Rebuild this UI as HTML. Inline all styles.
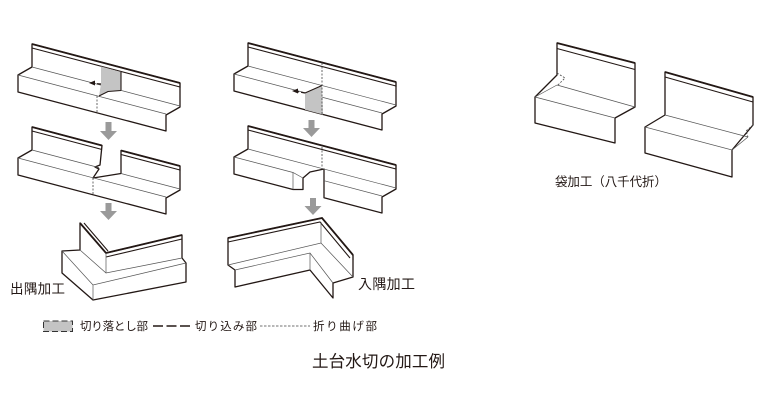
<!DOCTYPE html>
<html><head><meta charset="utf-8">
<style>
html,body{margin:0;padding:0;background:#fff;}
svg{display:block;}
text{font-family:"Liberation Sans","Noto Sans CJK JP",sans-serif;fill:#231815;}
.o{fill:#fff;stroke:#231815;stroke-width:1.3;stroke-linejoin:round;}
.lt{fill:none;stroke:#231815;stroke-width:1.8;}
.lb{fill:none;stroke:#231815;stroke-width:1.1;}
.f{fill:none;stroke:#555;stroke-width:0.7;}
.d{fill:none;stroke:#444;stroke-width:0.8;stroke-dasharray:2,1.5;}
.c{fill:none;stroke:#231815;stroke-width:1.3;stroke-dasharray:4,2;}
.g{fill:#c4c4c4;stroke:none;}
.ar{fill:#9a9a9a;}
</style></head>
<body>
<svg width="768" height="414" viewBox="0 0 768 414" xmlns="http://www.w3.org/2000/svg">

<!-- A1 -->
<g id="a1">
<path class="o" d="M32,44 L180,83 L180,107 L166,115 L166,131 L18,92 L18,75 L32,67 Z"/>
<path class="lt" d="M32,44 L180,83"/>
<path class="lb" d="M32,48 L180,87 M180,83 L180,88"/>
<path class="f" d="M32,67 L180,106 M18,75 L166,114"/>
</g>
<polygon class="g" points="101,66.5 121,72 121,90.5 110,91 99,96 101,84"/>
<path fill="none" stroke="#231815" stroke-width="1.1" d="M121,72 L121,90.5 M121,90.5 L108,91.5 L99,96"/>
<path class="c" d="M101,84 L94,83.5"/>
<polygon points="89,83 95,80.5 95,85.5" fill="#231815"/>
<path class="d" d="M97,96 L97,113"/>

<!-- A2 -->
<path class="o" d="M32,127 L102,145.5 L100,165 L95,167 L99,169 L93,178 L121,173.5 L121,150.5 L180,166 L180,190 L166,198 L166,214 L18,175 L18,158 L32,150 Z"/>
<path class="lt" d="M32,127 L102,145.5 M121,150.5 L180,166"/>
<path class="lb" d="M32,131 L102,149.5 M121,154.5 L180,170 M180,166 L180,171"/>
<path class="f" d="M32,150 L99,167.6 M18,158 L93,177.8 M93,177.8 L166,197 M121,173.5 L180,189"/>
<path class="d" d="M93,178 L93,195"/>

<!-- A3 -->
<path class="o" d="M80,223 L106,253 L182,235 L182,258 L186,263 L186,282 L93,300 L62,273 L62,251 L80,250 Z"/>
<path class="lt" d="M80,223 L106,253 L182,235"/>
<path class="lb" d="M84,223 L108,251 M106,257 L182,239"/>
<path class="f" d="M106,253 L106,273 M80,250 L106,273 L182,258 M62,251 L93,285 L186,263 M93,285 L93,300"/>

<!-- B1 -->
<g transform="translate(216,-1)">
<path class="o" d="M32,44 L180,83 L180,107 L166,115 L166,131 L18,92 L18,75 L32,67 Z"/>
<path class="lt" d="M32,44 L180,83"/>
<path class="lb" d="M32,48 L180,87 M180,83 L180,88"/>
<path class="f" d="M32,67 L180,106 M18,75 L166,114"/>
</g>
<polygon class="g" points="305,93 322,85.5 323,114.5 305,109.7"/>
<path fill="none" stroke="#231815" stroke-width="1" d="M305,93 L322,85.5"/>
<path class="d" d="M322,63 L322,114"/>
<path class="c" d="M305,93 L297,91.5"/>
<polygon points="292,91 298,88.5 298,93.5" fill="#231815"/>

<!-- B2 -->
<path class="o" d="M248,126 L396,165 L396,189 L382,197 L382,213 L324,197.7 L324,169 L310,172 L303,178 L303,189.5 L293,189.5 L234,174 L234,157 L248,149 Z"/>
<path class="lt" d="M248,126 L396,165"/>
<path class="lb" d="M248,130 L396,169 M396,165 L396,170"/>
<path class="f" d="M248,149 L396,188 M234,157 L293,172.5 L303,178 M293,172.5 L293,189.5 M324,180.7 L382,196"/>
<path class="d" d="M322,147 L322,168.5"/>

<!-- B3 -->
<path class="o" d="M228,238 L322,218 L353,255 L353,277 L333,283 L333,298 L310,270 L235,287 L235,270 L228,265 Z"/>
<path class="lt" d="M228,238 L322,218 L353,255"/>
<path class="lb" d="M228,242 L320,222 L350,258 M353,255 L353,260"/>
<path class="f" d="M321,222 L321,243 M228,265 L321,243 L353,277 M235,270 L310,253 L333,283 M310,253 L310,270"/>

<!-- C1 -->
<path class="o" d="M557,43 L635,63 L635,107 L615,118 L615,143 L535,123 L535,97 L557,75 Z"/>
<path class="lt" d="M557,43 L635,63"/>
<path class="lb" d="M557,48.5 L635,69.5"/>
<path class="f" d="M557,85 L635,107 M535,97 L615,118 M535,97 L557,85"/>
<path class="d" d="M557,73 L565,78 L558,85"/>

<!-- C2 -->
<path class="o" d="M665,72 L753,97 L753,125 L732,150 L732,177 L645,153 L645,127 L665,115 Z"/>
<path class="lt" d="M665,72 L753,97"/>
<path class="lb" d="M665,77 L753,102"/>
<path class="f" d="M665,115 L748,137 M645,127 L732,150 L748,137"/>
<path class="d" d="M753,125 L746,131 L748,137"/>

<!-- arrows -->
<g class="ar">
<polygon points="105.5,122 111.5,122 111.5,131 117,131 108.5,140 100,131 105.5,131"/>
<polygon points="105.5,203 111.5,203 111.5,211 117,211 108.5,220 100,211 105.5,211"/>
<polygon points="308.5,120 314.5,120 314.5,128 320,128 311.5,137 303,128 308.5,128"/>
<polygon points="310,198 316,198 316,206 321.5,206 313,215 304.5,206 310,206"/>
</g>

<!-- labels -->
<text x="10" y="293.5" font-size="13.5" textLength="55">出隅加工</text>
<text x="358" y="289" font-size="14" textLength="57">入隅加工</text>
<text x="555" y="186" font-size="12.5" textLength="112">袋加工（八千代折）</text>

<!-- legend -->
<rect x="43.5" y="321" width="29" height="10.5" fill="#c4c4c4" stroke="#333" stroke-width="1" stroke-dasharray="6,3"/>
<text x="80" y="330" font-size="11.5" textLength="68">切り落とし部</text>
<path d="M153,326 L190,326" stroke="#231815" stroke-width="1.4" stroke-dasharray="10,3.5" fill="none"/>
<text x="195" y="330" font-size="11.5" textLength="62">切り込み部</text>
<path d="M260,326 L310,326" stroke="#444" stroke-width="0.8" stroke-dasharray="2.5,1.5" fill="none"/>
<text x="313" y="330" font-size="11.5" textLength="64">折り曲げ部</text>

<!-- title -->
<text x="312" y="367" font-size="16.5" textLength="133">土台水切の加工例</text>
</svg>
</body></html>
